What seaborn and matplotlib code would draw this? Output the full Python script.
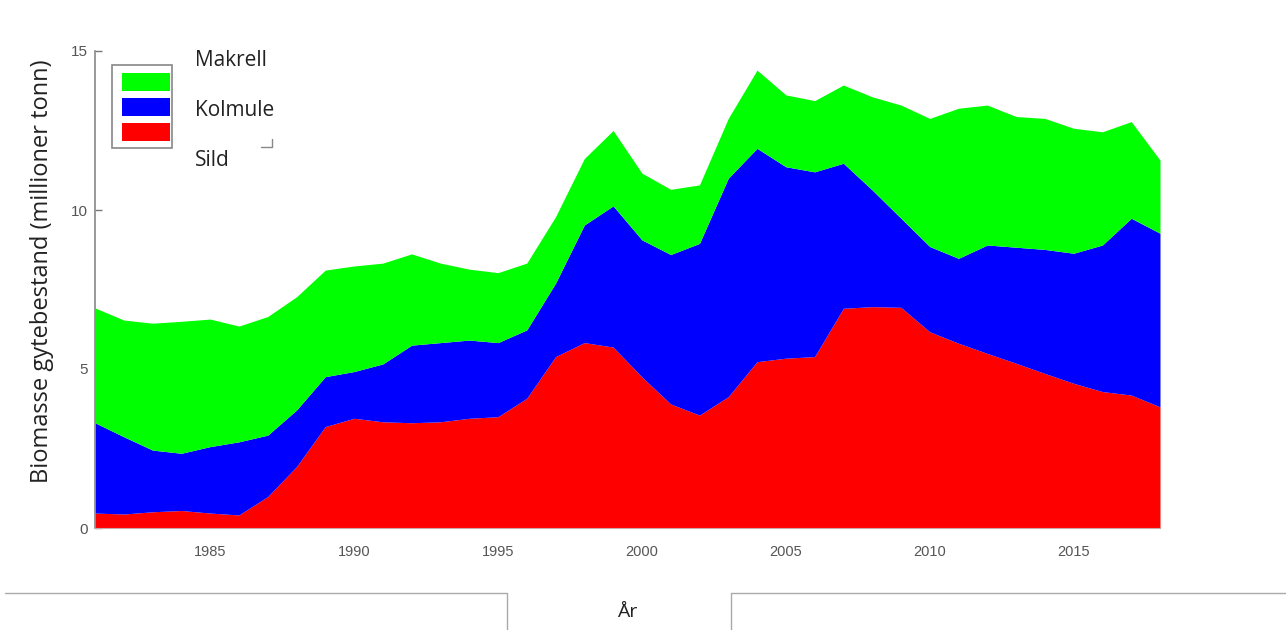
import matplotlib
matplotlib.use("Agg")
import matplotlib.pyplot as plt
from matplotlib.patches import Rectangle
from matplotlib.lines import Line2D
import numpy as np
import seaborn as sns

# data (millioner tonn)
years = list(range(1981, 2019))
sild = [0.47, 0.44, 0.51, 0.55, 0.47, 0.41, 0.99, 1.93, 3.19, 3.45,
        3.34, 3.31, 3.34, 3.45, 3.50, 4.08, 5.39, 5.83, 5.69, 4.75,
        3.90, 3.55, 4.13, 5.23, 5.34, 5.39, 6.91, 6.96, 6.94, 6.17,
        5.81, 5.49, 5.18, 4.86, 4.55, 4.29, 4.18, 3.81]
kolmule = [2.84, 2.43, 1.94, 1.80, 2.09, 2.30, 1.93, 1.78, 1.57, 1.47,
           1.82, 2.44, 2.49, 2.46, 2.33, 2.15, 2.31, 3.70, 4.44, 4.31,
           4.70, 5.40, 6.87, 6.71, 6.02, 5.81, 4.56, 3.67, 2.80, 2.68,
           2.67, 3.41, 3.65, 3.90, 4.09, 4.61, 5.56, 5.46]
makrell = [3.61, 3.67, 3.99, 4.15, 4.01, 3.64, 3.73, 3.56, 3.35, 3.32,
           3.17, 2.87, 2.50, 2.23, 2.20, 2.10, 2.09, 2.09, 2.37, 2.10,
           2.05, 1.84, 1.88, 2.46, 2.26, 2.24, 2.46, 2.93, 3.56, 4.03,
           4.72, 4.40, 4.11, 4.12, 3.93, 3.56, 3.04, 2.30]
series_names = ["Sild", "Kolmule", "Makrell"]
series_colors = ["#ff0000", "#0000ff", "#00ff00"]
y_ticks = [0, 5, 10, 15]
x_ticks = [1985, 1990, 1995, 2000, 2005, 2010, 2015]

sns.set_theme(style="white")
plt.rcParams["font.family"] = ["Open Sans", "DejaVu Sans"]

W, H = 1286, 630
fig = plt.figure(figsize=(W / 100, H / 100), dpi=100)
ax = fig.add_axes([95 / W, 1 - 528 / H, (1160 - 95) / W, (528 - 51) / H])

ax.stackplot(years, sild, kolmule, makrell, colors=series_colors,
             labels=series_names, linewidth=0)

ax.set_xlim(years[0], years[-1])
ax.set_ylim(0, 15)
ax.set_yticks(y_ticks)
ax.set_xticks(x_ticks)
ax.tick_params(axis="y", direction="in", length=5, width=1, color="#777777",
               labelsize=11, labelcolor="#555555", pad=5, left=True)
ax.tick_params(axis="x", length=0, labelsize=10.5, labelcolor="#555555", pad=12)
for lab in ax.get_xticklabels() + ax.get_yticklabels():
    lab.set_family("Liberation Sans")

sns.despine(ax=ax, top=True, right=True)
ax.spines["left"].set_color("#888888")
ax.spines["left"].set_linewidth(1.2)
ax.spines["bottom"].set_color("#c8a8a8")
ax.spines["bottom"].set_linewidth(0.8)

ax.set_ylabel("Biomasse gytebestand (millioner tonn)", fontsize=17, color="#222222")
ax.yaxis.set_label_coords(-0.0385, 0.539)
ax.set_xlabel("År", fontsize=14, color="#222222", labelpad=32)

# legend: framed colour patches with the names set beside them
def fx(px):
    return px / W

def fy(py):
    return 1 - py / H

fig.add_artist(Rectangle((fx(112), fy(148)), fx(172) - fx(112), fy(65) - fy(148),
                         transform=fig.transFigure, fill=False,
                         edgecolor="#888888", linewidth=1.2))
patch_tops = [123, 98, 73]
for col, top in zip(series_colors, patch_tops):
    fig.add_artist(Rectangle((fx(122), fy(top + 18)), fx(170) - fx(122), fy(top) - fy(top + 18),
                             transform=fig.transFigure, facecolor=col, edgecolor="none"))
label_y = [160, 111, 60]
for name, yy in zip(series_names, label_y):
    fig.text(fx(195), fy(yy), name, fontsize=15, color="#222222", va="center", ha="left")
fig.add_artist(Line2D([fx(261), fx(272), fx(272)], [fy(147), fy(147), fy(139)],
                      transform=fig.transFigure, color="#888888", linewidth=1))

# grey frame lines at the bottom edge
fig.add_artist(Line2D([fx(5), fx(507), fx(507)], [fy(593), fy(593), fy(630)],
                      transform=fig.transFigure, color="#aaaaaa", linewidth=1))
fig.add_artist(Line2D([fx(731), fx(731), fx(1286)], [fy(630), fy(593), fy(593)],
                      transform=fig.transFigure, color="#aaaaaa", linewidth=1))

fig.savefig("out.png", dpi=100, facecolor="white")
